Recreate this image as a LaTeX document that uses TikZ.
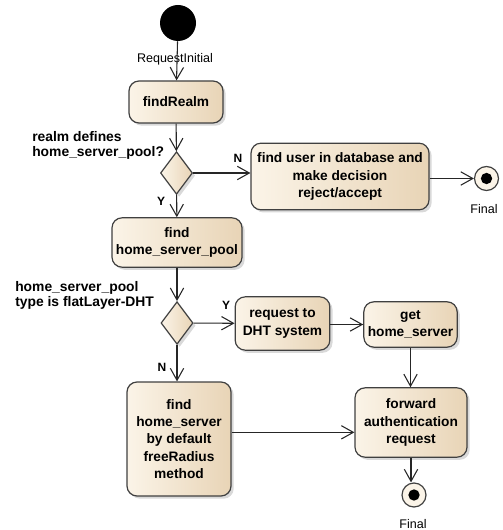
\documentclass[tikz,border=0pt]{standalone}
\usepackage{fontspec}
\setmainfont{Liberation Sans}
\usetikzlibrary{arrows.meta, shapes.geometric, shadows}
\definecolor{actlight}{HTML}{FBF4E8}
\definecolor{actdark}{HTML}{E8D4B6}

\begin{document}
\begin{tikzpicture}[x=0.75pt, y=-0.75pt,
		act/.style={rectangle, rounded corners=7.5pt, draw=black!75, line width=0.9pt,
			left color=actlight, right color=actdark, inner sep=1pt, align=center,
			drop shadow={shadow xshift=2pt, shadow yshift=-2pt, opacity=0.3},
			font=\bfseries\fontsize{10.3}{13}\selectfont},
		dec/.style={diamond, draw=black!75, line width=0.9pt, inner sep=0pt,
			left color=actlight, right color=actdark, minimum width=24pt, minimum height=32pt,
			drop shadow={shadow xshift=2pt, shadow yshift=-2pt, opacity=0.3}},
		fin/.style={circle, draw=black!75, line width=0.9pt, fill=actlight, inner sep=0pt, minimum size=18pt},
		guard/.style={font=\bfseries\fontsize{9}{11}\selectfont},
		quest/.style={anchor=north west, align=left, inner sep=0pt, font=\bfseries\fontsize{10.4}{11.6}\selectfont},
		lbl/.style={font=\fontsize{9.4}{11}\selectfont},
		flow/.style={draw=black!85, line width=0.8pt, -{Straight Barb[length=9pt, width=10pt, line width=0.8pt]}}]
	\useasboundingbox (0,0) rectangle (502,530);
	% start
	\node[circle, fill=black, inner sep=0pt, minimum size=27pt] (init) at (178,23) {};
	% actions
	\node[act, minimum width=70.5pt, minimum height=31.5pt] (findRealm) at (176,102) {findRealm};
	\node[act, minimum width=133.5pt, minimum height=50pt] (findUser) at (340,176.5)
		{find user in database and\\make decision\\reject/accept};
	\node[act, minimum width=97.5pt, minimum height=37pt] (findPool) at (177,242.5)
		{find\\home\_server\_pool};
	\node[act, minimum width=71pt, minimum height=40pt] (reqDHT) at (282.5,323.5)
		{request to\\DHT system};
	\node[act, minimum width=70pt, minimum height=34pt] (getHS) at (410.5,324.5)
		{get\\home\_server};
	\node[act, minimum width=78pt, minimum height=85.5pt] (defHS) at (179,439)
		{find\\home\_server\\by default\\freeRadius\\method};
	\node[act, minimum width=84pt, minimum height=52pt] (fwd) at (411,422.5)
		{forward\\authentication\\request};
	% decisions
	\node[dec] (hasPool) at (176.5,173) {};
	\node[dec] (isDHT) at (177,323) {};
	% ends
	\foreach \pos/\name in {{(486.5,178.5)}/endA, {(414,495)}/endB}{
		\node[fin] (\name) at \pos {};
		\node[circle, fill=black, inner sep=0pt, minimum size=8.5pt] (\name dot) at \pos {};
	}
	% texts
	\node[lbl] (initTxt) at (175,59) {RequestInitial};
	\node[lbl] (endATxt) at (484,209) {Final};
	\node[lbl] (endBTxt) at (413,524) {Final};
	\node[quest] (qPool) at (32,131) {realm defines\\home\_server\_pool?};
	\node[quest] (qDHT) at (15,281) {home\_server\_pool\\type is flatLayer-DHT};
	\node[guard] (n1) at (238,158) {N};
	\node[guard] (y1) at (161,201) {Y};
	\node[guard] (y2) at (226,305) {Y};
	\node[guard] (n2) at (162,367) {N};
	% flows
	\draw[flow] (init) -- (findRealm);
	\draw[flow] (findRealm) -- (hasPool);
	\draw[flow] (hasPool.east) -- (hasPool.east -| findUser.west);
	\draw[flow] (findUser.east |- endA) -- (endA);
	\draw[flow] (hasPool) -- (findPool);
	\draw[flow] (findPool) -- (isDHT);
	\draw[flow] (isDHT) -- (reqDHT);
	\draw[flow] (reqDHT.east |- getHS.west) -- (getHS.west);
	\draw[flow] (isDHT) -- (isDHT |- defHS.north);
	\draw[flow] (getHS) -- (getHS |- fwd.north);
	\draw[flow] ([yshift=5pt]defHS.east) -- ([yshift=5pt]defHS.east -| fwd.west);
	\draw[flow] (fwd) -- (fwd |- endB.north);
\end{tikzpicture}
\end{document}
